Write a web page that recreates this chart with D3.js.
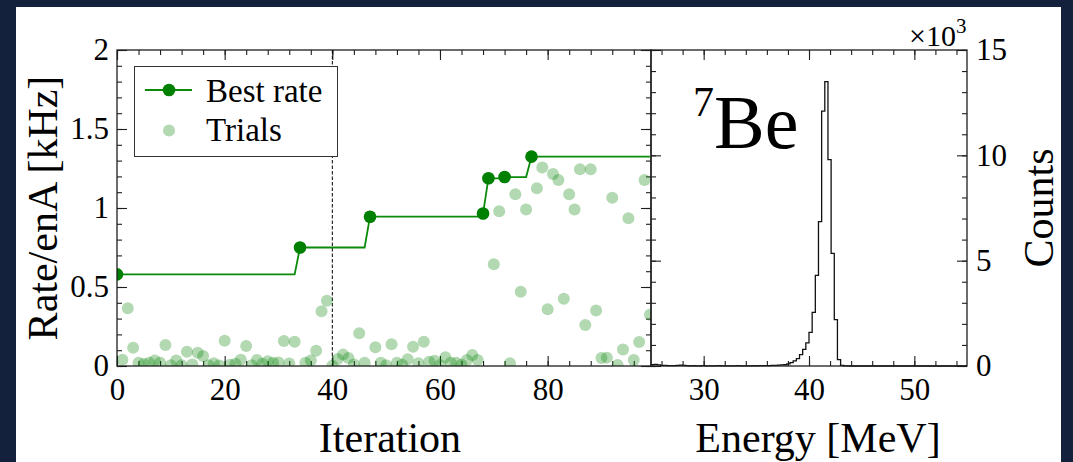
<!DOCTYPE html>
<html>
<head>
<meta charset="utf-8">
<script src="https://cdn.jsdelivr.net/npm/d3@7"></script>
<style>
  html, body { margin: 0; padding: 0; background: #14213d; }
  svg { display: block; }
  text { font-family: "Liberation Serif", "DejaVu Serif", serif; fill: #000; }
</style>
</head>
<body>
<div id="chart"></div>
<script>
// optimisation scan: one trial per iteration, rate in kHz per enA
const trialRates = [
  0.58, 0.04, 0.365, 0.115, 0.02, 0.012, 0.02, 0.035, 0.02, 0.133,
  0.005, 0.035, 0.005, 0.09, 0.01, 0.084, 0.064, 0.005, 0.018, 0.003,
  0.16, 0.008, 0.015, 0.04, 0.127, 0.005, 0.038, 0.015, 0.03, 0.02,
  0.022, 0.158, 0.016, 0.154, 0.75, 0.02, 0.035, 0.097, 0.346, 0.413,
  0.002, 0.045, 0.072, 0.05, 0.01, 0.207, 0.02, 0.945, 0.118, 0.02,
  0.005, 0.137, 0.02, 0.008, 0.042, 0.122, 0.017, 0.154, 0.027, 0.034,
  0.006, 0.055, 0.02, 0.02, 0.008, 0.038, 0.07, 0.038, 0.965, 1.188,
  0.644, 0.98, 1.196, 0.017, 1.087, 0.47, 0.99, 1.325, 1.125, 1.257,
  0.359, 1.215, 1.177, 0.426, 1.087, 0.99, 1.245, 0.26, 1.245, 0.352,
  0.05, 0.053, 1.065, 0.006, 0.105, 0.935, 0.038, 0.152, 1.177, 0.325
];
const bestIters = [0, 34, 47, 68, 69, 72, 77];
const bestRates = [0.58, 0.75, 0.945, 0.965, 1.188, 1.196, 1.325];
const iterTicks = [0, 20, 40, 60, 80];
const rateTicks = [0, 0.5, 1, 1.5, 2];
const markedIter = 40;

// 7Be energy spectrum, counts in units of 10^3, 0.3 MeV bins from 25 MeV
const binLow = 25, binWidth = 0.3;
const counts = [
  0.06, 0.08, 0.05, 0.03, 0.03, 0.02, 0.02, 0.02, 0.03, 0.04,
  0.03, 0.02, 0.01, 0.02, 0.01, 0.01, 0.02, 0.01, 0.01, 0.01,
  0.01, 0.02, 0.01, 0.01, 0.01, 0.01, 0.01, 0.02, 0.01, 0.01,
  0.01, 0.01, 0.02, 0.01, 0.02, 0.02, 0.02, 0.02, 0.03, 0.03,
  0.04, 0.05, 0.06, 0.1, 0.16, 0.24, 0.35, 0.54, 0.79, 1.1,
  1.6, 2.55, 4.3, 6.85, 12.1, 13.5, 9.8, 5.35, 2.2, 0.3,
  0.03, 0.01, 0.01, 0, 0, 0, 0, 0, 0, 0,
  0, 0, 0, 0, 0, 0, 0, 0, 0, 0,
  0, 0, 0, 0, 0, 0, 0, 0, 0, 0,
  0, 0, 0, 0, 0, 0, 0, 0, 0, 0
];
const energyTicks = [30, 40, 50];
const countTicks = [0, 5, 10, 15];

const width = 1073, height = 462;
const plotTop = 50, plotBottom = 366;
const leftBox = { x0: 117, x1: 651 };
const rightBox = { x0: 651, x1: 967 };
const ink = '#1e1e1e';

const svg = d3.select('#chart').append('svg')
  .attr('width', width)
  .attr('height', height);

svg.append('rect')
  .attr('x', 16).attr('y', 7)
  .attr('width', 1045).attr('height', height)
  .attr('fill', '#fff');

const defs = svg.append('defs');
defs.append('clipPath').attr('id', 'clip-left')
  .append('rect')
    .attr('x', leftBox.x0).attr('y', plotTop)
    .attr('width', leftBox.x1 - leftBox.x0).attr('height', plotBottom - plotTop);

// scales
const x = d3.scaleLinear().domain([0, 99.2]).range([leftBox.x0, leftBox.x1]);
const y = d3.scaleLinear().domain([0, 2]).range([plotBottom, plotTop]);
const xe = d3.scaleLinear().domain([25, 55]).range([rightBox.x0, rightBox.x1]);
const yc = d3.scaleLinear().domain([0, 15]).range([plotBottom, plotTop]);

// inward ticks on one side of a frame
function tickSide(axisFn, scale, values, size, pos, fmt, pad) {
  const g = svg.append('g')
    .attr('transform', pos)
    .style('color', ink)
    .call(axisFn(scale).tickValues(values).tickSize(-size)
      .tickPadding(pad || 0).tickFormat(fmt || (() => '')));
  g.select('.domain').remove();
  g.selectAll('line').attr('stroke-width', 1.1);
  return g;
}

function frameTicks(xs, ys, xMinor, xMajor, yMinor, yMajor, r, sideY) {
  // minor
  tickSide(d3.axisBottom, xs, xMinor, 5, `translate(0,${plotBottom})`);
  tickSide(d3.axisTop, xs, xMinor, 5, `translate(0,${plotTop})`);
  tickSide(d3.axisLeft, ys, yMinor, 5, `translate(${r.x0},0)`);
  tickSide(d3.axisRight, ys, yMinor, 5, `translate(${r.x1},0)`);
  // major
  tickSide(d3.axisTop, xs, xMajor, 10, `translate(0,${plotTop})`);
  tickSide(d3.axisBottom, xs, xMajor, 10, `translate(0,${plotBottom})`, d3.format('d'), 12);
  if (sideY === 'left') {
    tickSide(d3.axisLeft, ys, yMajor, 10, `translate(${r.x0},0)`, d3.format(''), 8);
    tickSide(d3.axisRight, ys, yMajor, 10, `translate(${r.x1},0)`);
  } else {
    tickSide(d3.axisLeft, ys, yMajor, 10, `translate(${r.x0},0)`);
    tickSide(d3.axisRight, ys, yMajor, 10, `translate(${r.x1},0)`, d3.format('d'), 9);
  }
}

const iterMinor = d3.range(0, 100, 4);
const rateMinor = d3.range(0, 2.01, 0.1);
const energyMinor = d3.range(26, 55, 2);
const countMinor = d3.range(0, 16, 1);

frameTicks(x, y, iterMinor, iterTicks, rateMinor, rateTicks, leftBox, 'left');
frameTicks(xe, yc, energyMinor, energyTicks, countMinor, countTicks, rightBox, 'right');

svg.selectAll('.tick text')
  .style('font-family', '"Liberation Serif", serif')
  .style('font-size', '31px')
  .attr('fill', '#000');

// ----- left panel: scan -----
const plot = svg.append('g').attr('clip-path', 'url(#clip-left)');

plot.append('line')
  .attr('x1', x(markedIter)).attr('x2', x(markedIter))
  .attr('y1', plotTop).attr('y2', plotBottom)
  .attr('stroke', '#000')
  .attr('stroke-width', 1)
  .attr('stroke-dasharray', '3.5,2');

plot.append('g')
  .selectAll('circle')
  .data(trialRates)
  .enter().append('circle')
    .attr('cx', (d, i) => x(i))
    .attr('cy', d => y(d))
    .attr('r', 6)
    .attr('fill', 'green')
    .attr('fill-opacity', 0.3);

// best-so-far value at every iteration
const bestLine = trialRates.map((d, i) => {
  const k = d3.bisectRight(bestIters, i) - 1;
  return [i, bestRates[k]];
});

plot.append('path')
  .datum(bestLine)
  .attr('fill', 'none')
  .attr('stroke', '#0b8a0b')
  .attr('stroke-width', 1.8)
  .attr('d', d3.line().x(d => x(d[0])).y(d => y(d[1])));

plot.append('g')
  .selectAll('circle')
  .data(bestIters)
  .enter().append('circle')
    .attr('cx', d => x(d))
    .attr('cy', (d, i) => y(bestRates[i]))
    .attr('r', 6.3)
    .attr('fill', 'green');

// legend
const legend = svg.append('g');
legend.append('rect')
  .attr('x', 134.5).attr('y', 66.5)
  .attr('width', 203).attr('height', 90)
  .attr('fill', '#fff')
  .attr('stroke', '#333')
  .attr('stroke-width', 1);
legend.append('line')
  .attr('x1', 145).attr('x2', 192).attr('y1', 90).attr('y2', 90)
  .attr('stroke', '#0b8a0b').attr('stroke-width', 1.8);
legend.append('circle')
  .attr('cx', 169).attr('cy', 90).attr('r', 6.3).attr('fill', 'green');
legend.append('circle')
  .attr('cx', 169).attr('cy', 130.5).attr('r', 6)
  .attr('fill', 'green').attr('fill-opacity', 0.3);
legend.append('text')
  .attr('x', 206).attr('y', 102)
  .style('font-size', '33px')
  .text('Best rate');
legend.append('text')
  .attr('x', 206).attr('y', 141)
  .style('font-size', '33px')
  .text('Trials');

// ----- right panel: histogram -----
const histPts = counts.map((c, i) => [binLow + i * binWidth, c]);
histPts.push([binLow + counts.length * binWidth, counts[counts.length - 1]]);

svg.append('path')
  .datum(histPts)
  .attr('fill', 'none')
  .attr('stroke', '#111')
  .attr('stroke-width', 1.3)
  .attr('d', d3.line().curve(d3.curveStepAfter)
    .x(d => xe(d[0])).y(d => yc(d[1])));

// frames
[leftBox, rightBox].forEach(r => {
  svg.append('rect')
    .attr('x', r.x0).attr('y', plotTop)
    .attr('width', r.x1 - r.x0).attr('height', plotBottom - plotTop)
    .attr('fill', 'none')
    .attr('stroke', ink)
    .attr('stroke-width', 1.3);
});

// labels
svg.append('text')
  .attr('x', 390).attr('y', 452)
  .attr('text-anchor', 'middle')
  .style('font-size', '42px')
  .text('Iteration');

svg.append('text')
  .attr('x', 818).attr('y', 452)
  .attr('text-anchor', 'middle')
  .style('font-size', '42px')
  .text('Energy [MeV]');

svg.append('text')
  .attr('transform', 'translate(57,' + ((plotTop + plotBottom) / 2) + ') rotate(-90)')
  .attr('text-anchor', 'middle')
  .style('font-size', '42px')
  .text('Rate/enA [kHz]');

svg.append('text')
  .attr('transform', 'translate(1053,' + ((plotTop + plotBottom) / 2) + ') rotate(-90)')
  .attr('text-anchor', 'middle')
  .style('font-size', '42px')
  .text('Counts');

const mult = svg.append('text')
  .attr('x', 909).attr('y', 46)
  .style('font-size', '30px');
mult.append('tspan').text('\u00d710');
mult.append('tspan').attr('dy', -13).style('font-size', '21px').text('3');

const iso = svg.append('text')
  .attr('x', 693).attr('y', 148);
iso.append('tspan').attr('dy', -32).style('font-size', '42px').text('7');
iso.append('tspan').attr('dy', 32).style('font-size', '76px').text('Be');
</script>
</body>
</html>
